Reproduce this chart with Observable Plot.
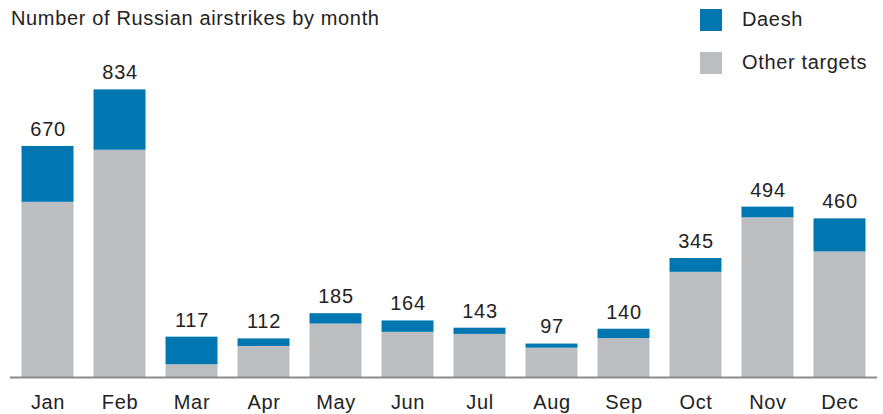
<!DOCTYPE html>
<html>
<head>
<meta charset="utf-8">
<script src="https://cdn.jsdelivr.net/npm/d3@7"></script>
<script src="https://cdn.jsdelivr.net/npm/@observablehq/plot@0.6"></script>
<style>
  body { margin: 0; background: #fff; }
  #wrap { position: relative; width: 883px; height: 414px; font-family: "Liberation Sans", Arial, sans-serif; color: #222; }
  #title { position: absolute; left: 11px; top: 6px; font-size: 20px; letter-spacing: 0.65px; line-height: 24px; white-space: nowrap; }
  .leg { position: absolute; left: 700px; display: flex; align-items: center; font-size: 20px; letter-spacing: 0.65px; white-space: nowrap; }
  .sw { width: 22px; height: 22px; margin-right: 20px; }
  #chart { position: absolute; left: 0; top: 0; }
  #chart text { letter-spacing: 0.65px; }
</style>
</head>
<body>
<div id="wrap">
  <div id="chart"></div>
  <div id="title">Number of Russian airstrikes by month</div>
  <div class="leg" style="top:8px"><div class="sw" style="background:#0077b0"></div><span>Daesh</span></div>
  <div class="leg" style="top:51px"><div class="sw" style="background:#bcbdc0"></div><span>Other targets</span></div>
</div>
<script>
const months = ["Jan","Feb","Mar","Apr","May","Jun","Jul","Aug","Sep","Oct","Nov","Dec"];
const daesh  = [162, 175, 80, 22, 30, 33, 18, 12, 27, 40, 31, 96];
const other  = [508, 659, 37, 90, 155, 131, 125, 85, 113, 305, 463, 364];
const totals = [670, 834, 117, 112, 185, 164, 143, 97, 140, 345, 494, 460];
const series = ["Other targets", "Daesh"];
const colors = ["#bcbdc0", "#0077b0"];

const rows = [];
months.forEach((m, i) => {
  rows.push({month: m, type: "Other targets", value: other[i]});
  rows.push({month: m, type: "Daesh", value: daesh[i]});
});
const totalRows = months.map((m, i) => ({month: m, total: totals[i]}));

const chart = Plot.plot({
  width: 883,
  height: 414,
  marginLeft: 10,
  marginRight: 6,
  marginTop: 68,
  marginBottom: 37,
  style: {fontFamily: "Liberation Sans, Arial, sans-serif", fontSize: "20px", color: "#222", background: "transparent"},
  x: {domain: months, paddingInner: 0.278, paddingOuter: 0.16, round: false, label: null},
  y: {domain: [0, 896], axis: null},
  color: {domain: series, range: colors},
  marks: [
    Plot.barY(rows, {x: "month", y: "value", fill: "type", order: series}),
    Plot.ruleY([0], {stroke: "#8c8c8c", strokeWidth: 2}),
    Plot.text(totalRows, {x: "month", y: "total", text: d => String(d.total), dy: -17, fill: "#222", fontSize: 20}),
    Plot.axisX({tickSize: 0, tickPadding: 17, fontSize: 20, fill: "#222", label: null})
  ]
});
document.getElementById("chart").appendChild(chart);
</script>
</body>
</html>
